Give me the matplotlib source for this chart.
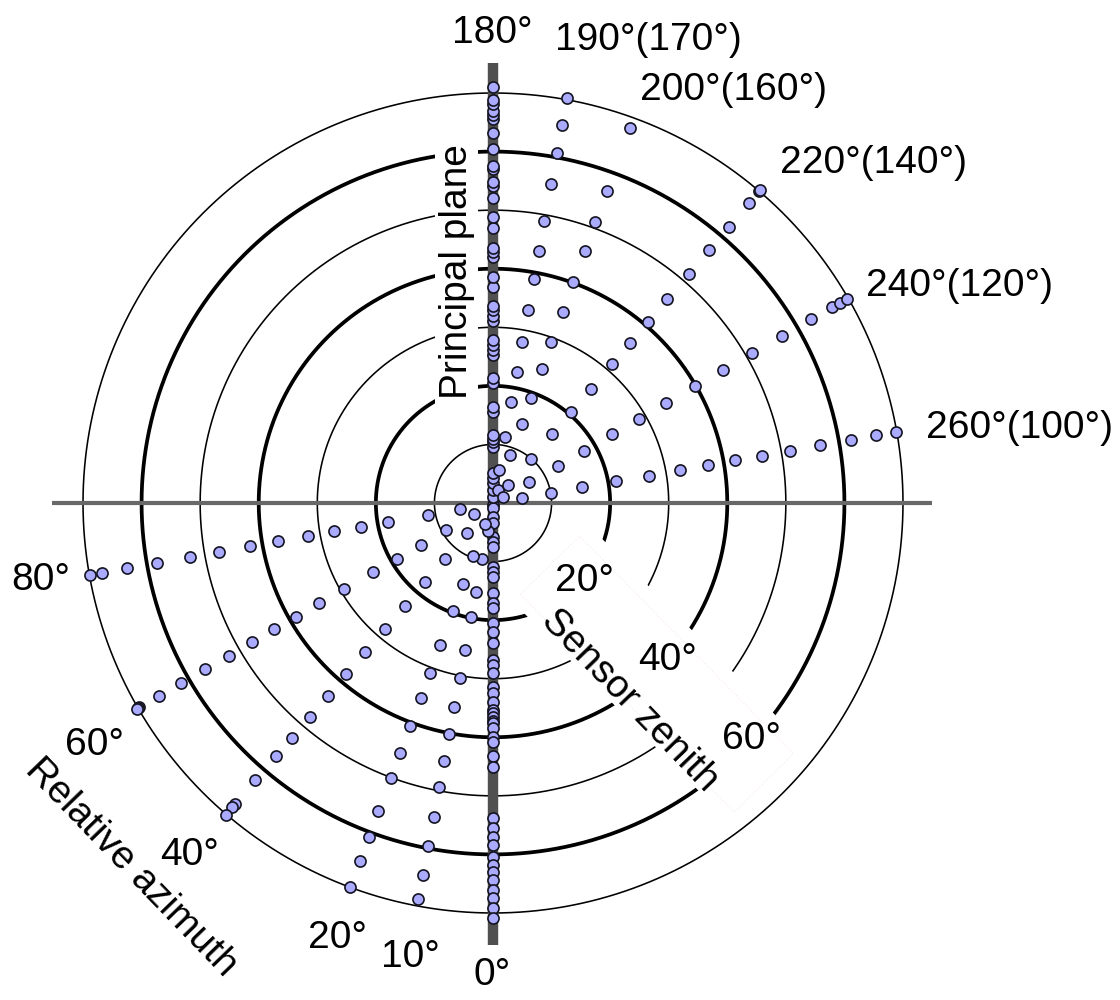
import numpy as np
import matplotlib
matplotlib.use("Agg")
import matplotlib.pyplot as plt
from matplotlib.patches import Polygon, Rectangle

plt.rcParams['font.family'] = ['Liberation Sans', 'DejaVu Sans']

# ---------------- data ----------------
zenith_rings = [10, 20, 30, 40, 50, 60, 70]
thick_rings = [20, 40, 60]

# relative azimuth of each sampling ray (deg) and sensor zenith of the points on it (deg)
az_000 = 0.0
zen_000 = [0.3, 0.9, 2.4, 3.4, 5.8, 6.7, 7.5, 10.9, 11.8, 12.6, 15.4, 17.1, 17.9, 20.5, 22.0,
           23.9, 26.8, 27.7, 29.0, 31.4, 32.5, 34.0, 35.3, 35.9, 36.5, 37.3, 37.6, 38.4, 39.9,
           40.8, 43.2, 45.0, 53.8, 55.5, 57.0, 58.4, 60.4, 61.8, 63.0, 64.4, 66.1, 67.4, 69.2, 70.9]
az_010 = 10.7
zen_010 = [4.9, 9.7, 15.5, 19.8, 25.5, 30.4, 35.5, 40.2, 44.8, 49.4, 54.6, 59.6, 64.6, 68.8]
az_020 = 20.4
zen_020 = [3.9, 9.7, 14.7, 19.6, 25.9, 31.0, 35.5, 40.6, 45.5, 50.1, 56.1, 60.8, 65.3, 70.0]
az_040 = 40.6
zen_040 = [6.8, 12.7, 17.8, 23.1, 28.3, 33.5, 38.5, 43.4, 48.1, 52.8, 57.0, 62.4, 67.6, 68.4, 70.1]
az_060 = 60.0
zen_060 = [3.8, 9.2, 14.2, 19.0, 23.7, 29.4, 34.3, 38.9, 43.1, 47.6, 52.1, 56.8, 61.5, 65.9,
           69.8, 70.0, 70.2]
az_080 = 79.9
zen_080 = [5.8, 11.3, 18.2, 22.9, 27.6, 32.1, 37.3, 42.2, 47.5, 52.5, 58.3, 63.5, 67.8, 69.9]
az_180 = 180.0
zen_180 = [1.0, 2.2, 3.4, 4.3, 5.1, 9.6, 10.4, 11.0, 11.6, 15.5, 16.4, 20.5, 21.3, 25.3, 26.1,
           26.9, 27.8, 31.0, 32.0, 32.9, 33.6, 36.9, 38.6, 42.0, 42.8, 43.5, 47.0, 48.8, 52.1,
           54.2, 54.8, 57.0, 57.6, 60.4, 63.2, 65.5, 66.2, 66.9, 68.2, 68.8, 71.0]
az_190 = 190.3
zen_190 = [5.7, 11.4, 17.5, 22.7, 27.9, 33.5, 38.8, 43.7, 48.9, 55.4, 60.7, 65.6, 70.3]
az_200 = 200.0
zen_200 = [2.3, 8.7, 14.3, 19.1, 24.3, 29.2, 34.7, 40.1, 45.7, 51.1, 56.7, 68.2]
az_220 = 220.5
zen_220 = [4.0, 9.9, 15.6, 20.4, 25.7, 31.2, 36.0, 40.7, 45.8, 51.4, 56.8, 62.0, 67.3, 70.0, 70.3]
az_240 = 240.0
zen_240 = [1.9, 7.1, 12.8, 17.9, 23.4, 28.8, 34.1, 39.8, 45.3, 51.1, 56.9, 62.7, 66.9, 68.4, 69.8]
az_260 = 260.0
zen_260 = [5.0, 10.0, 15.4, 21.3, 27.0, 32.4, 37.2, 41.9, 46.6, 51.5, 56.7, 62.1, 66.4, 69.8]

rays = [(az_000, zen_000), (az_010, zen_010), (az_020, zen_020), (az_040, zen_040),
        (az_060, zen_060), (az_080, zen_080), (az_180, zen_180), (az_190, zen_190),
        (az_200, zen_200), (az_220, zen_220), (az_240, zen_240), (az_260, zen_260)]

azimuth_labels = ['180°', '190°(170°)', '200°(160°)', '220°(140°)', '240°(120°)', '260°(100°)',
                  '80°', '60°', '40°', '20°', '10°', '0°']
zenith_labels = ['20°', '40°', '60°']

# ---------------- layout ----------------
W, H = 1120, 1000
CX, CY = 493, 503          # pixel position of the pole
PX = 5.857                 # pixels per degree of zenith

fig = plt.figure(figsize=(W / 100, H / 100), dpi=100)
ax = fig.add_axes([0, 0, 1, 1])
ax.set_xlim(-CX / PX, (W - CX) / PX)
ax.set_ylim(-(H - CY) / PX, CY / PX)
ax.axis('off')


def to_xy(az, zen):
    a = np.radians(np.asarray(az, dtype=float))
    z = np.asarray(zen, dtype=float)
    return -z * np.sin(a), -z * np.cos(a)


def px(xp, yp):
    return (xp - CX) / PX, (CY - yp) / PX


# rings
t = np.linspace(0, 2 * np.pi, 1441)
for r in zenith_rings:
    lw = 2.7 if r in thick_rings else 1.15
    ax.plot(r * np.cos(t), r * np.sin(t), color='black', lw=lw, zorder=2)

# white masks behind labels
ang = np.radians(-45.5)
u = np.array([np.cos(ang), np.sin(ang)])
nv = np.array([-np.sin(ang), np.cos(ang)])
band = [s * u + m * nv for s, m in [(14.3, -9.4), (65.7, -9.4), (65.7, 9.0), (14.3, 9.0)]]
ax.add_patch(Polygon(band, closed=True, fc='white', ec='none', zorder=3))
outline = [s * u + m * nv for s, m in [(14.4, -7.6), (66.5, -7.6), (66.5, 6.6), (14.4, 6.6)]]
ax.add_patch(Polygon(outline, closed=True, fill=False, ec='#f6d0d0', lw=0.5,
                     ls=(0, (2, 3)), zorder=3, alpha=0.6))
x0, y0 = px(435, 405)
x1, y1 = px(478, 137)
ax.add_patch(Rectangle((x0, y0), x1 - x0, y1 - y0, fc='white', ec='none', zorder=3))

# axis lines
ax.plot([px(52, 0)[0], px(932, 0)[0]], [0, 0], color='#686868', lw=3.0,
        solid_capstyle='butt', zorder=4)
ax.plot([0, 0], [px(0, 945)[1], px(0, 63)[1]], color='#505050', lw=7.5,
        solid_capstyle='butt', zorder=4)

# points
for az, zen in rays:
    x, y = to_xy(np.full(len(zen), az), zen)
    ax.scatter(x, y, s=64, c='#aaaaff', edgecolors='#141420', linewidths=1.2, zorder=5)

FS = 28
# azimuth labels
az_label_px = [(492, 33), (648, 40), (734, 90), (874, 163), (960, 286), (1020, 428),
               (41, 580), (95, 745), (190, 855), (337, 938), (410, 957), (492, 975)]
for lab, (xp, yp) in zip(azimuth_labels, az_label_px):
    x, y = px(xp, yp)
    ax.text(x, y, lab, fontsize=FS, ha='center', va='center', zorder=6)

# zenith labels
zen_label_px = [(585, 581), (668, 660), (752, 739)]
for lab, (xp, yp) in zip(zenith_labels, zen_label_px):
    x, y = px(xp, yp)
    ax.text(x, y, lab, fontsize=FS, ha='center', va='center', zorder=6)

x, y = px(630, 701)
ax.text(x, y, 'Sensor zenith', fontsize=FS, rotation=-46, ha='center', va='center',
        rotation_mode='anchor', zorder=6)
x, y = px(131, 868)
ax.text(x, y, 'Relative azimuth', fontsize=FS, rotation=-46, ha='center', va='center',
        rotation_mode='anchor', zorder=6)
x, y = px(457, 272)
ax.text(x, y, 'Principal plane', fontsize=FS, rotation=90, ha='center', va='center',
        rotation_mode='anchor', zorder=6)

fig.savefig('out.png', dpi=100, facecolor='white')
